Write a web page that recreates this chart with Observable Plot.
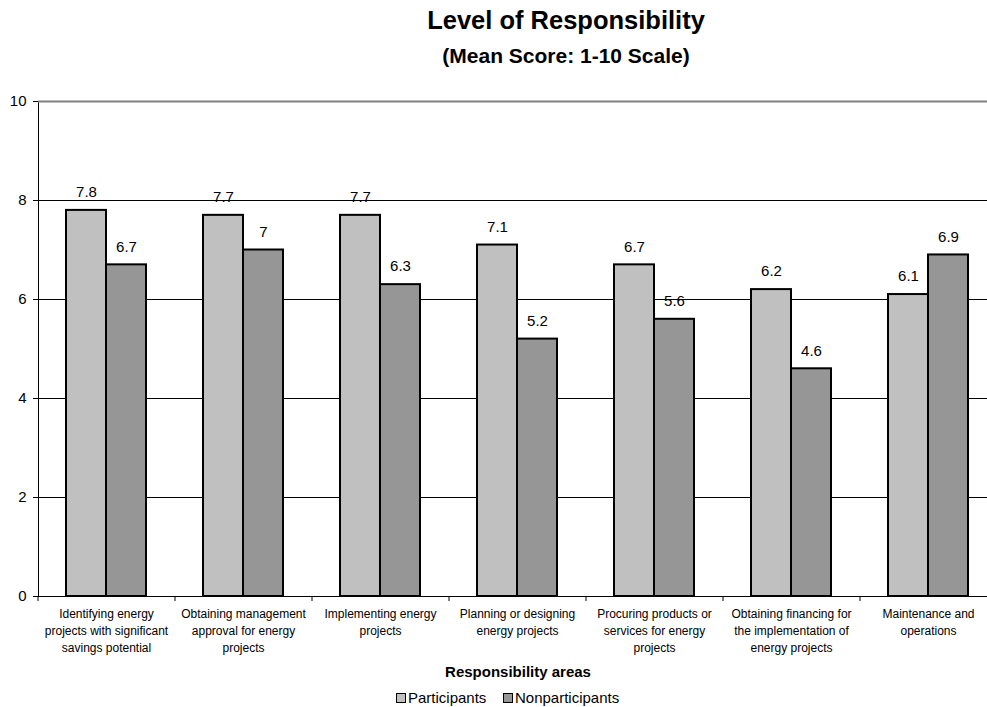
<!DOCTYPE html>
<html>
<head>
<meta charset="utf-8">
<script src="https://cdn.jsdelivr.net/npm/d3@7"></script>
<script src="https://cdn.jsdelivr.net/npm/@observablehq/plot@0.6"></script>
<style>
  html, body { margin: 0; padding: 0; background: #fff; }
  body { width: 987px; height: 707px; overflow: hidden; position: relative; font-family: Arial, "Liberation Sans", sans-serif; color: #000; }
  .t { position: absolute; left: 0; width: 1132px; text-align: center; font-weight: bold; line-height: 1; white-space: nowrap; }
  #title { top: 8px; font-size: 25.5px; }
  #subtitle { top: 45px; font-size: 21px; }
  #chart { position: absolute; left: 0; top: 74px; }
  #chart svg { max-width: none !important; overflow: visible; }
  .sw { position: absolute; width: 8px; height: 8px; border: 1px solid #000; top: 693px; }
  .lt { position: absolute; top: 690px; font-size: 15px; line-height: 1; white-space: nowrap; }
</style>
</head>
<body>
<div id="title" class="t">Level of Responsibility</div>
<div id="subtitle" class="t">(Mean Score: 1-10 Scale)</div>
<div id="chart"></div>
<div id="legend"></div>
<script>
const categories = [
  "Identifying energy projects with significant savings potential",
  "Obtaining management approval for energy projects",
  "Implementing energy projects",
  "Planning or designing energy projects",
  "Procuring products or services for energy projects",
  "Obtaining financing for the implementation of energy projects",
  "Maintenance and operations"
];
const xLabels = [
  "Identifying energy\nprojects with significant\nsavings potential",
  "Obtaining management\napproval for energy\nprojects",
  "Implementing energy\nprojects",
  "Planning or designing\nenergy projects",
  "Procuring products or\nservices for energy\nprojects",
  "Obtaining financing for\nthe implementation of\nenergy projects",
  "Maintenance and\noperations"
];
const participants = [7.8, 7.7, 7.7, 7.1, 6.7, 6.2, 6.1];
const nonparticipants = [6.7, 7.0, 6.3, 5.2, 5.6, 4.6, 6.9];
const yTicks = [0, 2, 4, 6, 8, 10];
const gridValues = [2, 4, 6, 8];
const seriesNames = ["Participants", "Nonparticipants"];
const seriesColors = ["#c0c0c0", "#969696"];
const xTitle = "Responsibility areas";

const pData = categories.map((c, i) => ({cat: c, v: participants[i], lab: xLabels[i]}));
const nData = categories.map((c, i) => ({cat: c, v: nonparticipants[i]}));

const plot = Plot.plot({
  width: 997,
  height: 610,
  marginLeft: 38,
  marginRight: 0,
  marginTop: 27,
  marginBottom: 88,
  style: {fontFamily: "Arial, 'Liberation Sans', sans-serif", fontSize: "15px", color: "#000", background: "transparent"},
  x: {type: "band", domain: categories, paddingInner: 0.416, paddingOuter: 0.208, axis: null},
  y: {domain: [0, 10], ticks: yTicks, tickSize: 5, tickPadding: 7, line: true, label: null, tickFormat: d => String(d)},
  marks: [
    Plot.ruleY(gridValues, {stroke: "#000", strokeWidth: 1}),
    Plot.ruleY([10], {stroke: "#808080", strokeWidth: 2}),
    Plot.barY(pData, {x: "cat", y: "v", fill: seriesColors[0], stroke: "#000", strokeWidth: 2, insetRight: 40}),
    Plot.barY(nData, {x: "cat", y: "v", fill: seriesColors[1], stroke: "#000", strokeWidth: 2, insetLeft: 40}),
    Plot.ruleY([0], {stroke: "#000", strokeWidth: 1}),
    Plot.axisX({ticks: categories, tickSize: 5, tickFormat: () => "", label: null, dx: -68.5, stroke: "#000"}),
    Plot.text(pData, {x: "cat", y: "v", text: d => String(d.v), dx: -20, dy: -18, lineAnchor: "middle", fontSize: 15, fill: "#000"}),
    Plot.text(nData, {x: "cat", y: "v", text: d => String(d.v), dx: 20, dy: -18, lineAnchor: "middle", fontSize: 15, fill: "#000"}),
    Plot.text(pData, {x: "cat", text: "lab", frameAnchor: "bottom", lineAnchor: "top", dy: 10, lineHeight: 1.39, fontSize: 12, fill: "#000"}),
    Plot.text([xTitle], {text: d => d, frameAnchor: "bottom", lineAnchor: "middle", dy: 76, fontSize: 15, fontWeight: "bold", fill: "#000"})
  ]
});
plot.style.maxWidth = "none";
document.getElementById("chart").appendChild(plot);

const legend = document.getElementById("legend");
const swLeft = [396, 503];
const txtLeft = [408, 515];
seriesNames.forEach((name, i) => {
  const sw = document.createElement("div");
  sw.className = "sw";
  sw.style.left = swLeft[i] + "px";
  sw.style.background = seriesColors[i];
  legend.appendChild(sw);
  const t = document.createElement("div");
  t.className = "lt";
  t.style.left = txtLeft[i] + "px";
  t.textContent = name;
  legend.appendChild(t);
});
</script>
</body>
</html>
